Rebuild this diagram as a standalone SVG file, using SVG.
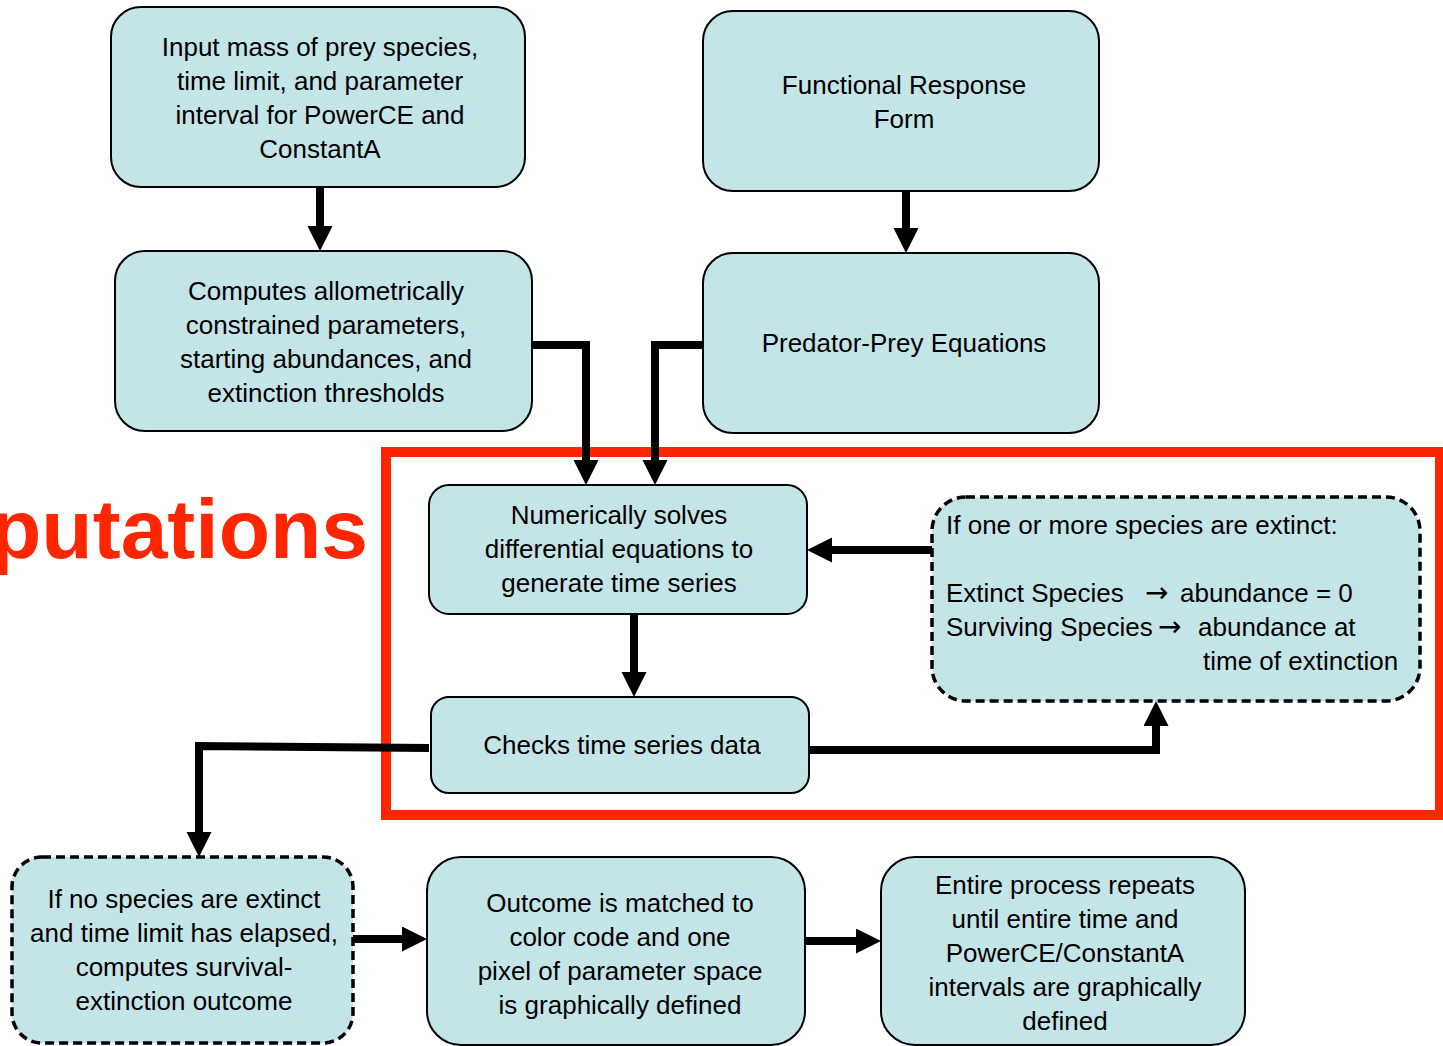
<svg xmlns="http://www.w3.org/2000/svg" width="1443" height="1046" viewBox="0 0 1443 1046">
<style>
.box{fill:#C4E5E8;stroke:#000;stroke-width:2}
.dbox{fill:#C4E5E8;stroke:#000;stroke-width:3.5;stroke-dasharray:9 5}
.t{font-family:"Liberation Sans",Arial,sans-serif;font-size:26px;fill:#000;text-anchor:middle}
.tl{font-family:"Liberation Sans",Arial,sans-serif;font-size:26px;fill:#000}
.ar{font-family:"DejaVu Sans",sans-serif;font-size:28px;fill:#000}
.c{fill:none;stroke:#000;stroke-width:8}
</style>
<defs>
<marker id="ah" markerUnits="userSpaceOnUse" markerWidth="26" markerHeight="26" refX="0" refY="12.5" orient="auto">
<path d="M0,0 L25,12.5 L0,25 z" fill="#000"/>
</marker>
</defs>
<rect x="0" y="0" width="1443" height="1046" fill="#fff"/>
<text x="368" y="558" font-family="Liberation Sans,Arial,sans-serif" font-size="84" font-weight="bold" fill="#FF2600" text-anchor="end">putations</text>
<rect x="386" y="452" width="1054" height="363" fill="none" stroke="#FF2600" stroke-width="10"/>
<g id="connectors">
<path class="c" d="M320,187 V226" marker-end="url(#ah)"/>
<path class="c" d="M906,191 V228" marker-end="url(#ah)"/>
<path class="c" d="M532,345 H586 V460" marker-end="url(#ah)"/>
<path class="c" d="M703,345 H655 V460" marker-end="url(#ah)"/>
<path class="c" d="M932,550 H832" marker-end="url(#ah)"/>
<path class="c" d="M634,614 V672" marker-end="url(#ah)"/>
<path class="c" d="M809,750 H1156 V726" marker-end="url(#ah)"/>
<path class="c" d="M429,748 L199,746 V832" marker-end="url(#ah)"/>
<path class="c" d="M353,939 H402" marker-end="url(#ah)"/>
<path class="c" d="M805,941 H856" marker-end="url(#ah)"/>
</g>
<g id="input">
<rect class="box" x="111" y="7" width="414" height="180" rx="30"/>
<text class="t" x="320" y="56">Input mass of prey species,</text>
<text class="t" x="320" y="90">time limit, and parameter</text>
<text class="t" x="320" y="124">interval for PowerCE and</text>
<text class="t" x="320" y="158">ConstantA</text>
</g>
<g id="functional">
<rect class="box" x="703" y="11" width="396" height="180" rx="30"/>
<text class="t" x="904" y="94">Functional Response</text>
<text class="t" x="904" y="128">Form</text>
</g>
<g id="computes">
<rect class="box" x="115" y="251" width="417" height="180" rx="30"/>
<text class="t" x="326" y="300">Computes allometrically</text>
<text class="t" x="326" y="334">constrained parameters,</text>
<text class="t" x="326" y="368">starting abundances, and</text>
<text class="t" x="326" y="402">extinction thresholds</text>
</g>
<g id="predator">
<rect class="box" x="703" y="253" width="396" height="180" rx="30"/>
<text class="t" x="904" y="352">Predator-Prey Equations</text>
</g>
<g id="solves">
<rect class="box" x="429" y="485" width="378" height="129" rx="20"/>
<text class="t" x="619" y="524">Numerically solves</text>
<text class="t" x="619" y="558">differential equations to</text>
<text class="t" x="619" y="592">generate time series</text>
</g>
<g id="extinct">
<rect class="dbox" x="932" y="497" width="488" height="204" rx="34"/>
<text class="tl" x="946" y="534">If one or more species are extinct:</text>
<text class="tl" x="946" y="602">Extinct Species</text>
<text class="ar" x="1145" y="602">→</text>
<text class="tl" x="1180" y="602">abundance = 0</text>
<text class="tl" x="946" y="636">Surviving Species</text>
<text class="ar" x="1158" y="636">→</text>
<text class="tl" x="1198" y="636">abundance at</text>
<text class="tl" x="1203" y="670">time of extinction</text>
</g>
<g id="checks">
<rect class="box" x="431" y="697" width="378" height="96" rx="18"/>
<text class="t" x="622" y="754">Checks time series data</text>
</g>
<g id="noextinct">
<rect class="dbox" x="12" y="857" width="341" height="186" rx="30"/>
<text class="t" x="184" y="908">If no species are extinct</text>
<text class="t" x="184" y="942">and time limit has elapsed,</text>
<text class="t" x="184" y="976">computes survival-</text>
<text class="t" x="184" y="1010">extinction outcome</text>
</g>
<g id="outcome">
<rect class="box" x="427" y="857" width="378" height="188" rx="34"/>
<text class="t" x="620" y="912">Outcome is matched to</text>
<text class="t" x="620" y="946">color code and one</text>
<text class="t" x="620" y="980">pixel of parameter space</text>
<text class="t" x="620" y="1014">is graphically defined</text>
</g>
<g id="repeat">
<rect class="box" x="881" y="857" width="364" height="188" rx="34"/>
<text class="t" x="1065" y="894">Entire process repeats</text>
<text class="t" x="1065" y="928">until entire time and</text>
<text class="t" x="1065" y="962">PowerCE/ConstantA</text>
<text class="t" x="1065" y="996">intervals are graphically</text>
<text class="t" x="1065" y="1030">defined</text>
</g>
</svg>
